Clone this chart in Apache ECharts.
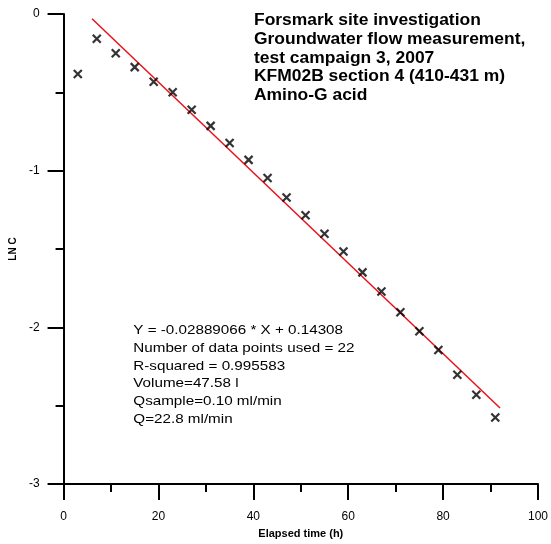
<!DOCTYPE html>
<html>
<head>
<meta charset="utf-8">
<script src="https://cdn.jsdelivr.net/npm/echarts@6/dist/echarts.min.js"></script>
<style>
  html, body { margin: 0; padding: 0; background: #fff; }
  #chart { width: 551px; height: 544px; }
</style>
</head>
<body>
<div id="chart"></div>
<script>
// Tracer dilution: elapsed time (h) against natural log of concentration
var elapsedHours = [3, 7, 11, 15, 19, 23, 27, 31, 35, 39, 43, 47, 51, 55, 59, 63, 67, 71, 75, 79, 83, 87, 91];
var lnConc = [-0.383, -0.158, -0.251, -0.339, -0.432, -0.499, -0.611, -0.714, -0.823, -0.931, -1.047,
              -1.171, -1.284, -1.402, -1.516, -1.649, -1.771, -1.903, -2.024, -2.144, -2.302, -2.430, -2.575];

// Regression line as stated in the annotation
var fitSlope = -0.02889066;
var fitIntercept = 0.14308;
var fitRange = [6, 92];

var xTicks = [0, 20, 40, 60, 80, 100];
var yTicks = [-3, -2, -1, 0];

var titleLines = [
  'Forsmark site investigation',
  'Groundwater flow measurement,',
  'test campaign 3, 2007',
  'KFM02B section 4 (410-431 m)',
  'Amino-G acid'
];
var statLines = [
  'Y = -0.02889066 * X + 0.14308',
  'Number of data points used = 22',
  'R-squared = 0.995583',
  'Volume=47.58 l',
  'Qsample=0.10 ml/min',
  'Q=22.8 ml/min'
];

var FONT = '"Liberation Sans", Arial, Helvetica, sans-serif';

var points = elapsedHours.map(function (t, i) { return [t, lnConc[i]]; });
var fitLine = fitRange.map(function (t) { return [t, fitSlope * t + fitIntercept]; });

var chart = echarts.init(document.getElementById('chart'), null, { renderer: 'canvas' });

var axisStroke = { color: '#000', width: 2 };

chart.setOption({
  animation: false,
  backgroundColor: '#fff',
  grid: { left: 63.3, right: 12.3, top: 14, bottom: 55, containLabel: false },
  xAxis: {
    type: 'value',
    min: xTicks[0],
    max: xTicks[xTicks.length - 1],
    interval: 20,
    name: 'Elapsed time (h)',
    nameLocation: 'middle',
    nameGap: 40,
    nameTextStyle: { fontFamily: FONT, fontWeight: 'bold', fontSize: 11, color: '#000' },
    axisLine: { show: true, onZero: false, lineStyle: axisStroke },
    axisTick: { show: true, inside: false, length: 16, lineStyle: axisStroke },
    minorTick: { show: true, splitNumber: 2, length: 8, lineStyle: axisStroke },
    splitLine: { show: false },
    axisLabel: { margin: 27, fontFamily: FONT, fontSize: 12, color: '#000' }
  },
  yAxis: {
    type: 'value',
    min: yTicks[0],
    max: yTicks[yTicks.length - 1],
    interval: 1,
    name: 'LN C',
    nameLocation: 'middle',
    nameGap: 45,
    nameTextStyle: { fontFamily: FONT, fontWeight: 'bold', fontSize: 10, color: '#000' },
    axisLine: { show: true, onZero: false, lineStyle: axisStroke },
    axisTick: { show: true, inside: false, length: 16, lineStyle: axisStroke },
    minorTick: { show: true, splitNumber: 2, length: 8, lineStyle: axisStroke },
    splitLine: { show: false },
    axisLabel: { margin: 24, fontFamily: FONT, fontSize: 12, color: '#000' }
  },
  series: [
    {
      type: 'line',
      data: fitLine,
      showSymbol: false,
      symbol: 'none',
      lineStyle: { color: '#e8121a', width: 1.5 },
      z: 2
    },
    {
      type: 'scatter',
      data: points,
      symbol: 'path://M0,0L10,10M10,0L0,10',
      symbolSize: 8,
      itemStyle: { color: 'rgba(0,0,0,0)', borderColor: '#000', borderWidth: 2.2 },
      z: 3
    }
  ],
  graphic: [
    {
      type: 'text',
      x: 254,
      y: 11.3,
      scaleX: 1.09,
      style: {
        text: titleLines.join('\n'),
        font: 'bold 16px ' + FONT,
        lineHeight: 18.75,
        fill: '#000'
      }
    },
    {
      type: 'text',
      x: 133.3,
      y: 321.9,
      scaleX: 1.17,
      style: {
        text: statLines.join('\n'),
        font: '13px ' + FONT,
        lineHeight: 17.7,
        fill: '#000'
      }
    }
  ]
});
</script>
</body>
</html>
